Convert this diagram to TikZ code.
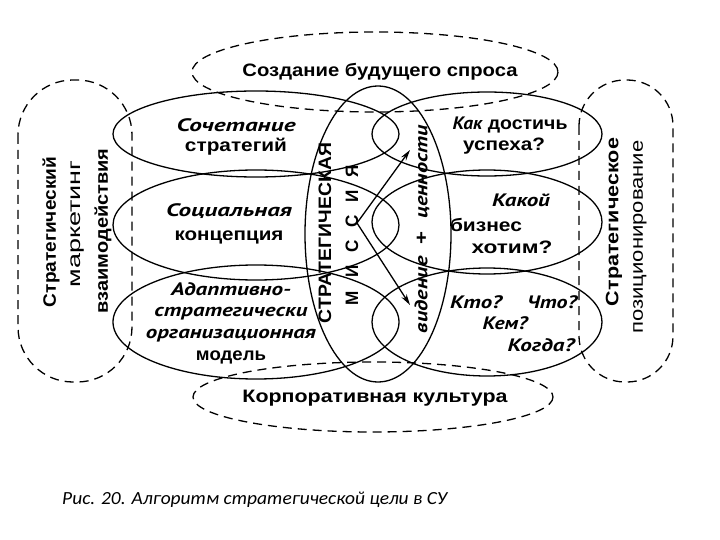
\documentclass[tikz,border=0pt]{standalone}
\usepackage{fontspec}
\usepackage{graphicx}
\setmainfont{Liberation Sans}
\newfontfamily\ptsans{PT Sans}
\newfontfamily\capfont{Carlito}
\usetikzlibrary{arrows.meta}
\newcommand{\kursiv}[1]{{\ptsans\bfseries\itshape #1}}
\newcommand{\fitline}[2]{\resizebox{#1pt}{\height}{#2}}

\begin{document}
\begin{tikzpicture}[
    x=1pt, y=-1pt,
    ring/.style={line width=1.3pt},
    dashring/.style={line width=1.3pt, dash pattern=on 9pt off 6pt},
    txt/.style={font=\bfseries\fontsize{18}{22}\selectfont, align=center, inner sep=0pt},
    vert/.style={txt, rotate=90},
    arrow/.style={-{Stealth[length=11pt,width=6pt]}, line width=1.3pt}
]

\useasboundingbox (0,0) rectangle (720,540);

% ------------------ Dashed outer shapes ------------------
\draw[dashring] (375,72) ellipse [x radius=183, y radius=40];
\draw[dashring] (373,397) ellipse [x radius=180, y radius=35];
\draw[dashring, rounded corners=55pt] (18,80) rectangle (132,382);
\draw[dashring, rounded corners=46pt] (579,80) rectangle (673,382);

% ------------------ Solid ellipses ------------------
\draw[ring] (256,134) ellipse [x radius=143, y radius=43];
\draw[ring] (256,225) ellipse [x radius=143, y radius=55];
\draw[ring] (256,322) ellipse [x radius=143, y radius=57];
\draw[ring] (487,134) ellipse [x radius=115, y radius=42];
\draw[ring] (487,222) ellipse [x radius=115, y radius=52];
\draw[ring] (487,322) ellipse [x radius=115, y radius=54];
\draw[ring] (378,234) ellipse [x radius=73, y radius=148];

% ------------------ Outer labels ------------------
\node[txt] (demand) at (380,72) {\fitline{275}{Создание будущего спроса}};
\node[txt] (culture) at (375,398) {\fitline{265}{Корпоративная культура}};

\node[vert] (marketA) at (51,232) {\fitline{150}{Стратегический}};
\node[vert, font=\mdseries\fontsize{18}{22}\selectfont] (marketB) at (78,224) {\fitline{127}{маркетинг}};
\node[vert] (marketC) at (103,231) {\fitline{165}{взаимодействия}};

\node[vert] (positA) at (614,222) {\fitline{168}{Стратегическое}};
\node[vert, font=\mdseries\fontsize{18}{22}\selectfont] (positB) at (640,237) {\fitline{193}{позиционирование}};

% ------------------ Left column ------------------
\node[txt, font=\bfseries\fontsize{18}{20}\selectfont] (combo) at (236,137)
    {\fitline{119}{\kursiv{Сочетание}}\\\fitline{102}{стратегий}};
\node[txt, font=\bfseries\fontsize{18}{24}\selectfont] (social) at (229,224)
    {\fitline{126}{\kursiv{Социальная}}\\\fitline{109}{концепция}};
\node[txt, font=\bfseries\fontsize{18}{21.7}\selectfont] (adaptive) at (231,323)
    {\fitline{120}{\kursiv{Адаптивно-}}\\\fitline{153}{\kursiv{стратегически}}\\
     \fitline{170}{\kursiv{организационная}}\\\fitline{70}{модель}};

% ------------------ Mission ------------------
\node[vert] (strategic) at (325,233) {\fitline{180}{СТРАТЕГИЧЕСКАЯ}};
\node[vert] (mission) at (352,235)
    {\fitline{140}{М\hspace{0.75em}И\hspace{0.75em}С\hspace{0.75em}С\hspace{0.75em}И\hspace{0.75em}Я}};
\node[vert] (vision) at (422,229) {\fitline{208}{\kursiv{видение} \ + \ \kursiv{ценности}}};

\coordinate (hub) at (357,223);
\coordinate (valueTip) at (410,150);
\coordinate (visionTip) at (410,305);
\draw[arrow] (hub) -- (valueTip);
\draw[arrow] (hub) -- (visionTip);

% ------------------ Right column ------------------
\node[txt] (successA) at (510,125) {\fitline{115}{\kursiv{Как} достичь}};
\node[txt] (successB) at (504,146) {\fitline{82}{успеха?}};
\node[txt] (which) at (521,200) {\fitline{58}{\kursiv{Какой}}};
\node[txt] (business) at (486,225) {\fitline{72}{бизнес}};
\node[txt] (want) at (512,247) {\fitline{81}{хотим?}};
\node[txt] (who) at (476,302) {\fitline{52}{\kursiv{Кто?}}};
\node[txt] (what) at (552,302) {\fitline{50}{\kursiv{Что?}}};
\node[txt] (whom) at (505,323) {\fitline{45}{\kursiv{Кем?}}};
\node[txt] (when) at (541,345) {\fitline{67}{\kursiv{Когда?}}};

% ------------------ Caption ------------------
\node[font=\capfont\itshape\fontsize{18.5}{20}\selectfont, anchor=west, inner sep=0pt] (caption) at (62,500)
    {\fitline{385}{Рис. 20. Алгоритм стратегической цели в СУ}};

\end{tikzpicture}
\end{document}
